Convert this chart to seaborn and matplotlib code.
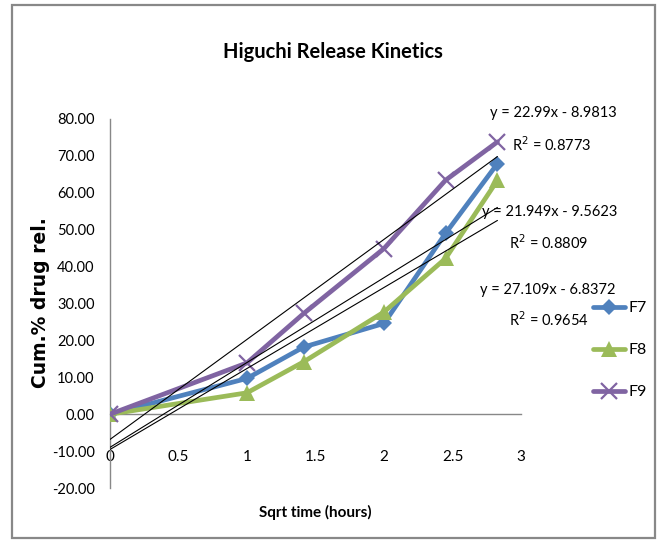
import matplotlib
matplotlib.use("Agg")
import matplotlib.pyplot as plt
from matplotlib.patches import Rectangle
import numpy as np
import pandas as pd
import seaborn as sns

# Release data (square root of time in hours vs cumulative % drug released)
sqrt_time = [0.0, 1.0, 1.414, 2.0, 2.449, 2.828]
f7 = [0.0, 9.7, 18.2, 24.6, 49.0, 67.9]
f8 = [0.0, 5.8, 14.2, 27.7, 42.2, 63.4]
f9 = [0.0, 13.9, 27.3, 44.9, 63.4, 73.8]

series_names = ["F7", "F8", "F9"]
series_colors = ["#4F81BD", "#9BBB59", "#8064A2"]

# Linear trendlines (slope, intercept, R^2) and their labels
trend_slopes = [22.99, 21.949, 27.109]
trend_intercepts = [-8.9813, -9.5623, -6.8372]
trend_r2 = ["0.8773", "0.8809", "0.9654"]
trend_eq_text = ["y = 22.99x - 8.9813", "y = 21.949x - 9.5623", "y = 27.109x - 6.8372"]

x_ticks = [0, 0.5, 1, 1.5, 2, 2.5, 3]
x_tick_labels = ["0", "0.5", "1", "1.5", "2", "2.5", "3"]
y_ticks = [-20, -10, 0, 10, 20, 30, 40, 50, 60, 70, 80]

sns.set_theme(style="white")
body_font = ["Lato", "DejaVu Sans"]
plt.rcParams["font.family"] = body_font
plt.rcParams["axes.unicode_minus"] = False
plt.rcParams["text.color"] = "black"

fig = plt.figure(figsize=(6.6, 5.4), dpi=100)
ax = fig.add_axes([110 / 660, 1 - 488 / 540, (521 - 110) / 660, (488 - 119) / 540])
ax.set_facecolor("none")

df = pd.DataFrame({
    "x": sqrt_time * 3,
    "y": f7 + f8 + f9,
    "series": sum([[n] * len(sqrt_time) for n in series_names], []),
})

marker_specs = {
    "F7": dict(marker="D", markersize=8, markeredgewidth=0),
    "F8": dict(marker="^", markersize=11, markeredgewidth=0),
    "F9": dict(marker="x", markersize=11, markeredgewidth=1.6),
}

for name, color in zip(series_names, series_colors):
    sub = df[df["series"] == name]
    sns.lineplot(data=sub, x="x", y="y", ax=ax, color=color, linewidth=3.4,
                 solid_joinstyle="round", solid_capstyle="round",
                 markeredgecolor=color, label=name, zorder=3, **marker_specs[name])

# Trendlines over the data range
xs = np.array([sqrt_time[0], sqrt_time[-1]])
for m, b in zip(trend_slopes, trend_intercepts):
    ax.plot(xs, m * xs + b, color="black", linewidth=0.8, zorder=4)

ax.set_xlim(0, 3)
ax.set_ylim(-20, 80)
ax.set_xticks(x_ticks)
ax.set_xticklabels(x_tick_labels)
ax.set_yticks(y_ticks)
ax.set_yticklabels([f"{v:.2f}" for v in y_ticks])

for side in ["top", "right"]:
    ax.spines[side].set_visible(False)
ax.spines["bottom"].set_position(("data", 0))
for side in ["left", "bottom"]:
    ax.spines[side].set_color("#888888")
    ax.spines[side].set_linewidth(1.0)

ax.tick_params(axis="x", direction="out", length=6, width=1, color="#888888",
               pad=20, labelsize=11, labelcolor="black")
ax.tick_params(axis="y", direction="out", length=4, width=1, color="#888888",
               pad=7, labelsize=10.5, labelcolor="black")
ax.set_xlabel("")
ax.set_ylabel("")

# Titles and axis captions
fig.text(333 / 660, 1 - 52 / 540, "Higuchi Release Kinetics", ha="center", va="center",
         fontsize=14.5, fontweight="bold", family=body_font)
fig.text(315 / 660, 1 - 512 / 540, "Sqrt time (hours)", ha="center", va="center",
         fontsize=11, fontweight="bold", family=body_font)
fig.text(41 / 660, 1 - 303 / 540, "Cum.% drug rel.", ha="center", va="center",
         rotation=90, fontsize=13.5, fontweight="bold", family="DejaVu Sans")

# Trendline equations
eq_pos = [(553, 113, 552, 145), (550, 212, 549, 243), (548, 290, 549, 320)]
for (ex, ey, rx, ry), eq, r2 in zip(eq_pos, trend_eq_text, trend_r2):
    fig.text(ex / 660, 1 - ey / 540, eq, ha="center", va="center", fontsize=10.5, family=body_font)
    fig.text(rx / 660, 1 - ry / 540, "R$^2$ = " + r2, ha="center", va="center",
             fontsize=10.5, family=body_font)

# Legend
leg = ax.legend(loc="upper left", bbox_to_anchor=(593 / 660, 1 - 301 / 540),
                bbox_transform=fig.transFigure, frameon=False, fontsize=11.5,
                handlelength=2.0, handletextpad=0.2, labelspacing=1.75,
                borderpad=0, borderaxespad=0)

# Outer chart border
fig.patches.append(Rectangle((12 / 660, 1 - 538 / 540), (655 - 12) / 660, (538 - 5) / 540,
                             transform=fig.transFigure, fill=False,
                             edgecolor="#888888", linewidth=1.6))

fig.savefig("out.png", dpi=100)
